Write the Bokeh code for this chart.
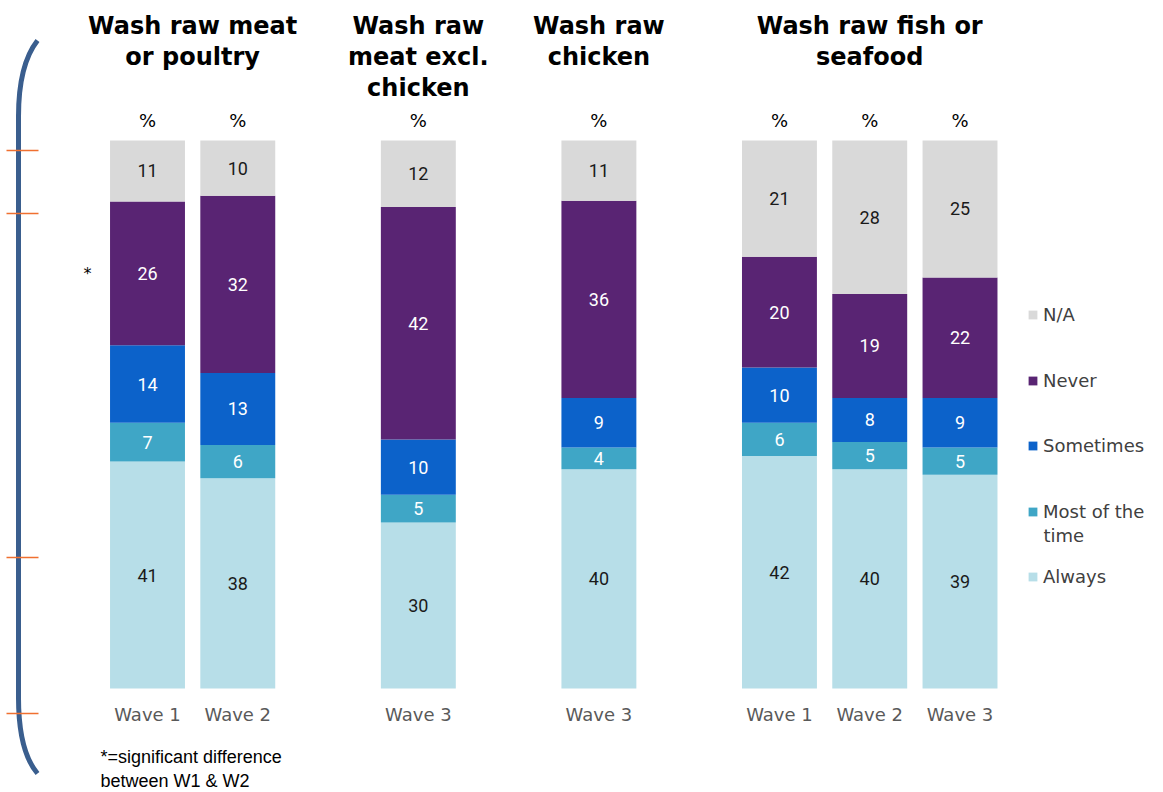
from bokeh.plotting import figure
from bokeh.models import Range1d, ColumnDataSource, Legend, LegendItem, Label
from bokeh.core.properties import value
from bokeh.embed import file_html
from bokeh.resources import INLINE

# ---------------- data ----------------
groups = ["poultry", "poultry", "meat", "chicken", "fish", "fish", "fish"]
waves = ["Wave 1", "Wave 2", "Wave 3", "Wave 3", "Wave 1", "Wave 2", "Wave 3"]
title_keys = ["poultry", "meat", "chicken", "fish"]
title_texts = ["Wash raw meat\nor poultry", "Wash raw\nmeat excl.\nchicken",
               "Wash raw\nchicken", "Wash raw fish or\nseafood"]

always = [41, 38, 30, 40, 42, 40, 39]
most_of_the_time = [7, 6, 5, 4, 6, 5, 5]
sometimes = [14, 13, 10, 9, 10, 8, 9]
never = [26, 32, 42, 36, 20, 19, 22]
na = [11, 10, 12, 11, 21, 28, 25]
significant = ["*", "", "", "", "", "", ""]   # marked next to the "Never" segment

series_keys = ["Always", "Most", "Sometimes", "Never", "NA"]
series_values = [always, most_of_the_time, sometimes, never, na]
legend_labels = ["Always", "Most of the\ntime", "Sometimes", "Never", "N/A"]
footnote = "*=significant difference\nbetween W1 & W2"

# ---------------- styles / layout ----------------
colors = ["#B7DEE8", "#3FA6C6", "#0C62CA", "#592473", "#D9D9D9"]
label_colors = ["#1a1a1a", "#ffffff", "#ffffff", "#ffffff", "#1a1a1a"]

W, H = 1163, 792
X_START, X_END = -1.1283, 11.754
Y_BOT, Y_TOP = -18.978, 125.547

# bar slots: one slot per bar, one empty slot between question groups
pos = []
gap = 0
for i, g in enumerate(groups):
    if i > 0 and g != groups[i - 1]:
        gap += 1
    pos.append(i + gap + 0.5)
title_x = [sum(pp for pp, g in zip(pos, groups) if g == k) / groups.count(k) for k in title_keys]

n = len(groups)
totals = [sum(s[i] for s in series_values) for i in range(n)]
norm = [[s[i] / totals[i] * 100 for i in range(n)] for s in series_values]

data = {"x": pos}
for k, s in zip(series_keys, norm):
    data[k] = s
src = ColumnDataSource(data)

p = figure(width=W, height=H, title=None,
           x_range=Range1d(X_START, X_END), y_range=Range1d(Y_BOT, Y_TOP),
           output_backend="svg", toolbar_location=None,
           x_axis_location=None, y_axis_location=None,
           min_border_left=0, min_border_right=0, min_border_top=0, min_border_bottom=0)
p.outline_line_color = None
p.grid.grid_line_color = None

# helpers for decorative (non-data) shapes given in canvas pixels
def px_x(v):
    return X_START + v * (X_END - X_START) / W
def px_y(v):
    return Y_TOP - v * (Y_TOP - Y_BOT) / H

renderers = p.vbar_stack(series_keys, x="x", width=0.83, fill_color=colors,
                         line_color=None, source=src)

# value labels
lx, ly, lt, lc = [], [], [], []
for i in range(n):
    base = 0.0
    for j, s in enumerate(norm):
        lx.append(pos[i])
        ly.append(base + s[i] / 2)
        lt.append(str(series_values[j][i]))
        lc.append(label_colors[j])
        base += s[i]
p.text(x=lx, y=ly, text=lt, text_color=lc, text_font=value("Roboto"),
       text_font_size="18px", text_align="center", text_baseline="middle")

# significance marker
sx, sy, st = [], [], []
for i in range(n):
    if significant[i]:
        sx.append(pos[i])
        sy.append(norm[0][i] + norm[1][i] + norm[2][i] + norm[3][i] / 2)
        st.append(significant[i])
p.text(x=sx, y=sy, text=st, x_offset=-60, text_color="#000000",
       text_font=value("DejaVu Sans"), text_font_size="16px",
       text_align="center", text_baseline="middle")

# "%" headers and wave labels
p.text(x=pos, y=[103.65] * n, text=["%"] * n, text_color="#000000",
       text_font=value("DejaVu Sans"), text_font_size="18px",
       text_align="center", text_baseline="middle")
p.text(x=pos, y=[-4.74] * n, text=waves, text_color="#595959",
       text_font=value("DejaVu Sans"), text_font_size="18px",
       text_align="center", text_baseline="middle")

# group titles
p.text(x=title_x, y=[123.5] * len(title_keys), text=title_texts, text_color="#000000",
       text_font=value("DejaVu Sans"), text_font_style="bold", text_font_size="24px",
       text_align="center", text_baseline="top", text_line_height=1.11)

# decorative bracket at the left
bc = "#3A5E8E"
p.bezier(x0=[px_x(37), px_x(18)], y0=[px_y(40), px_y(697)],
         x1=[px_x(18), px_x(37)], y1=[px_y(116), px_y(773)],
         cx0=[px_x(26), px_x(18)], cy0=[px_y(54), px_y(735)],
         cx1=[px_x(18), px_x(26)], cy1=[px_y(78), px_y(760)],
         line_color=bc, line_width=5)
p.segment(x0=[px_x(18)], y0=[px_y(114)], x1=[px_x(18)], y1=[px_y(699)],
          line_color=bc, line_width=5)
tick_rows = [150, 213, 557, 713]
p.segment(x0=[px_x(6)] * 4, y0=[px_y(t) for t in tick_rows],
          x1=[px_x(38)] * 4, y1=[px_y(t) for t in tick_rows],
          line_color="#F07030", line_width=1.5)

# legend (one per entry for exact placement; first line of a wrapped label in the legend)
legend_bottoms = {"NA": 467, "Never": 401, "Sometimes": 336, "Most": 270, "Always": 205}
for k, lab, r in zip(series_keys, legend_labels, renderers):
    lines = lab.split("\n")
    lg = Legend(items=[LegendItem(label=lines[0], renderers=[r])],
                location=(1027, legend_bottoms[k]),
                glyph_width=11, glyph_height=11, label_standoff=5,
                padding=0, margin=0, spacing=0,
                border_line_color=None, background_fill_alpha=0,
                label_text_font="DejaVu Sans", label_text_font_size="18px",
                label_text_color="#404040")
    p.add_layout(lg)
    for extra in lines[1:]:
        p.add_layout(Label(x=1043, y=legend_bottoms[k] - 13, x_units="screen", y_units="screen",
                           text=extra, text_font="DejaVu Sans", text_font_size="18px",
                           text_color="#404040", text_baseline="middle"))

p.add_layout(Label(x=100, y=46, x_units="screen", y_units="screen", text=footnote,
                   text_font="Liberation Sans", text_font_size="18px",
                   text_color="#000000", text_baseline="top"))

open("out.html", "w").write(file_html(p, INLINE))
